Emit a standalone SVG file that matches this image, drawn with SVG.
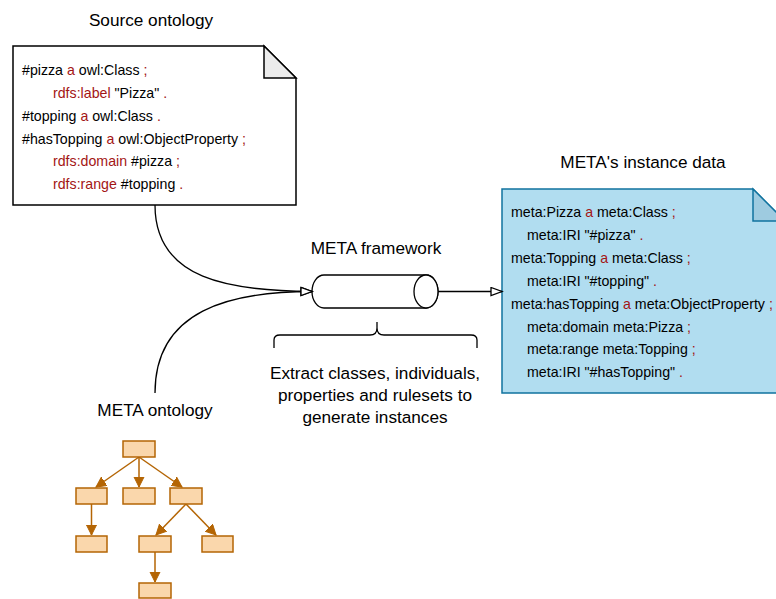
<svg xmlns="http://www.w3.org/2000/svg" width="776" height="599" viewBox="0 0 776 599">
  <defs>
    <style>
      text { font-family: "Liberation Sans", Arial, sans-serif; fill: #000; }
      .title { font-size: 17.2px; text-anchor: middle; }
      .code { font-size: 14.2px; }
      .kw { fill: #a31515; }
      .edge { fill: none; stroke: #000; stroke-width: 1.3; }
      .tbox { fill: #fad7ac; stroke: #b46504; stroke-width: 1.5; }
      .tedge { fill: none; stroke: #b46504; stroke-width: 1.5; }
    </style>
    <marker id="open" markerWidth="14" markerHeight="12" refX="12" refY="5" orient="auto" markerUnits="userSpaceOnUse">
      <path d="M1,1 L12,5 L1,9 Z" fill="#fff" stroke="#000" stroke-width="1.3"/>
    </marker>
    <marker id="solid" markerWidth="12" markerHeight="12" refX="10" refY="5.5" orient="auto" markerUnits="userSpaceOnUse">
      <path d="M0,0.5 L10,5.5 L0,10.5 Z" fill="#b46504" stroke="#b46504" stroke-width="1"/>
    </marker>
  </defs>

  <!-- Source ontology note -->
  <g id="source-ontology">
    <text class="title" x="151" y="26">Source ontology</text>
    <path d="M13,46 H264 L296,78 V205 H13 Z" fill="#fff" stroke="#000" stroke-width="1.5"/>
    <path d="M264,46 V78 H296 Z" fill="#ebebeb" stroke="#000" stroke-width="1.5"/>
    <text class="code" x="22" y="75">#pizza <tspan class="kw">a</tspan> owl:Class <tspan class="kw">;</tspan></text>
    <text class="code" x="53" y="98"><tspan class="kw">rdfs:label</tspan> "Pizza" <tspan class="kw">.</tspan></text>
    <text class="code" x="22" y="121">#topping <tspan class="kw">a</tspan> owl:Class <tspan class="kw">.</tspan></text>
    <text class="code" x="22" y="144">#hasTopping <tspan class="kw">a</tspan> owl:ObjectProperty <tspan class="kw">;</tspan></text>
    <text class="code" x="53" y="166"><tspan class="kw">rdfs:domain</tspan> #pizza <tspan class="kw">;</tspan></text>
    <text class="code" x="53" y="189"><tspan class="kw">rdfs:range</tspan> #topping <tspan class="kw">.</tspan></text>
  </g>

  <!-- META's instance data note -->
  <g id="instance-data">
    <text class="title" x="643" y="168">META's instance data</text>
    <path d="M502,189 H753 L785,221 V393 H502 Z" fill="#b1ddf0" stroke="#10739e" stroke-width="1.5"/>
    <path d="M753,189 V221 H785 Z" fill="#9ecbe0" stroke="#10739e" stroke-width="1.5"/>
    <text class="code" x="511" y="217">meta:Pizza <tspan class="kw">a</tspan> meta:Class <tspan class="kw">;</tspan></text>
    <text class="code" x="527" y="240">meta:IRI "#pizza" <tspan class="kw">.</tspan></text>
    <text class="code" x="511" y="263">meta:Topping <tspan class="kw">a</tspan> meta:Class <tspan class="kw">;</tspan></text>
    <text class="code" x="527" y="286">meta:IRI "#topping" <tspan class="kw">.</tspan></text>
    <text class="code" x="511" y="309">meta:hasTopping <tspan class="kw">a</tspan> meta:ObjectProperty <tspan class="kw">;</tspan></text>
    <text class="code" x="527" y="332">meta:domain meta:Pizza <tspan class="kw">;</tspan></text>
    <text class="code" x="527" y="354">meta:range meta:Topping <tspan class="kw">;</tspan></text>
    <text class="code" x="527" y="377">meta:IRI "#hasTopping" <tspan class="kw">.</tspan></text>
  </g>

  <!-- META framework (horizontal cylinder) -->
  <g id="meta-framework">
    <text class="title" x="376" y="254">META framework</text>
    <path d="M324,275 H426 A12,16.5 0 0 1 426,308 H324 A12,16.5 0 0 1 324,275 Z" fill="#fff" stroke="#000" stroke-width="1.3"/>
    <ellipse cx="426" cy="291.5" rx="12" ry="16.5" fill="#fff" stroke="#000" stroke-width="1.3"/>
  </g>

  <!-- Curly brace with description -->
  <g id="extract-note">
    <path d="M274,348 V340 Q274,335 280,335 H370 Q377,335 377,328 V322 M377,322 V328 Q377,335 384,335 H471 Q477,335 477,340 V348" fill="none" stroke="#000" stroke-width="1.3"/>
    <text class="title" x="375" y="379">Extract classes, individuals,</text>
    <text class="title" x="375" y="401">properties and rulesets to</text>
    <text class="title" x="375" y="423">generate instances</text>
  </g>

  <!-- META ontology tree -->
  <g id="meta-ontology">
    <text class="title" x="155" y="416">META ontology</text>
    <g id="tree-edges">
      <line class="tedge" x1="139" y1="457" x2="96" y2="487" marker-end="url(#solid)"/>
      <line class="tedge" x1="139" y1="457" x2="139" y2="487" marker-end="url(#solid)"/>
      <line class="tedge" x1="139" y1="457" x2="182" y2="487" marker-end="url(#solid)"/>
      <line class="tedge" x1="91.5" y1="504" x2="91.5" y2="535" marker-end="url(#solid)"/>
      <line class="tedge" x1="186" y1="504" x2="156" y2="535" marker-end="url(#solid)"/>
      <line class="tedge" x1="186" y1="504" x2="216" y2="535" marker-end="url(#solid)"/>
      <line class="tedge" x1="155" y1="552" x2="155" y2="582" marker-end="url(#solid)"/>
    </g>
    <rect class="tbox" x="123" y="441" width="32" height="16"/>
    <rect class="tbox" x="76" y="488" width="31" height="16"/>
    <rect class="tbox" x="123" y="488" width="32" height="16"/>
    <rect class="tbox" x="170" y="488" width="32" height="16"/>
    <rect class="tbox" x="76" y="536" width="31" height="16"/>
    <rect class="tbox" x="139" y="536" width="32" height="16"/>
    <rect class="tbox" x="202" y="536" width="31" height="16"/>
    <rect class="tbox" x="139" y="583" width="32" height="15"/>
  </g>

  <!-- Connectors -->
  <g id="connectors">
    <path class="edge" d="M155,205 C155,280 230,291 312,291.5" marker-end="url(#open)"/>
    <path class="edge" d="M155,393 C155,310 230,291.5 312,291.5" marker-end="url(#open)"/>
    <path class="edge" d="M438,291.5 H502" marker-end="url(#open)"/>
  </g>
</svg>
